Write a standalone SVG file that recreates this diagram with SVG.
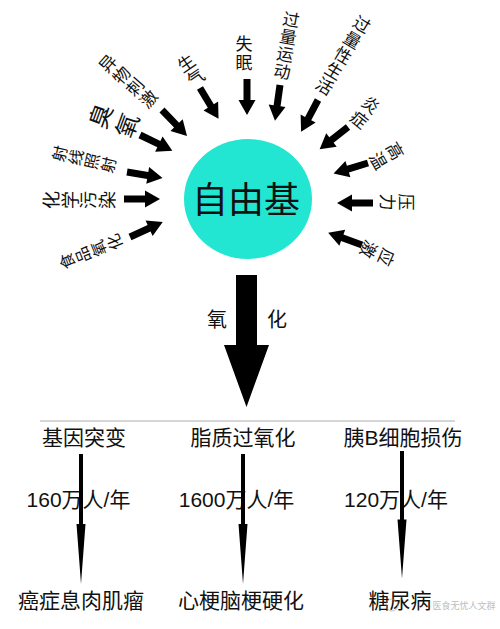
<svg xmlns="http://www.w3.org/2000/svg" xmlns:xlink="http://www.w3.org/1999/xlink" width="500" height="629" viewBox="0 0 500 629">
<style>
.t{font-family:"Noto Sans CJK SC","Liberation Sans",sans-serif;fill:#111;}
.r{font-family:"Noto Sans CJK SC",sans-serif;fill:#111;text-anchor:middle;dominant-baseline:central;}
.b{font-family:"Liberation Sans","Noto Sans CJK SC",sans-serif;fill:#111;text-anchor:middle;font-size:21px;}
.k{fill:#000;}
</style>
<defs>
<path id="ra" d="M0,-3.5 H21 V-8.5 L36,0 L21,8.5 V3.5 H0 Z"/>
<path id="ta" d="M-2,0 H2 V70 H4.5 L0,130 L-4.5,70 H-2 Z"/>
</defs>
<rect width="500" height="629" fill="#fff"/>

<g id="center">
<ellipse cx="248" cy="199" rx="64" ry="60" fill="#22e6d2"/>
<text class="t" x="246" y="213" font-size="36" text-anchor="middle">自由基</text>
</g>

<g id="n1" transform="translate(90,252) rotate(-112)"><text class="r" font-size="16"><tspan x="0" y="-25.5">食</tspan><tspan x="0" y="-8.5">品</tspan><tspan x="0" y="8.5">氧</tspan><tspan x="0" y="25.5">化</tspan></text></g>
<g id="n2" transform="translate(78,200) rotate(-90)"><text class="r" font-size="18"><tspan x="0" y="-27.75">化</tspan><tspan x="0" y="-9.25">学</tspan><tspan x="0" y="9.25">污</tspan><tspan x="0" y="27.75">染</tspan></text></g>
<g id="n3" transform="translate(83,159) rotate(-77)"><text class="r" font-size="16"><tspan x="0" y="-25">射</tspan><tspan x="0" y="-8.3">线</tspan><tspan x="0" y="8.3">照</tspan><tspan x="0" y="25">射</tspan></text></g>
<g id="n4" transform="translate(112,120) rotate(-70)"><text class="r" font-size="24"><tspan x="0" y="-14">臭</tspan><tspan x="0" y="14">氧</tspan></text></g>
<g id="n5" transform="translate(127,80) rotate(-49)"><text class="r" font-size="17"><tspan x="0" y="-27">异</tspan><tspan x="0" y="-9">物</tspan><tspan x="0" y="9">刺</tspan><tspan x="0" y="27">激</tspan></text></g>
<g id="n6" transform="translate(190,69) rotate(-34)"><text class="r" font-size="17"><tspan x="0" y="-8.5">生</tspan><tspan x="0" y="8.5">气</tspan></text></g>
<g id="n7"><text x="244" y="35" writing-mode="tb" font-family="Noto Sans CJK SC,sans-serif" font-size="17" letter-spacing="2" fill="#111">失眠</text></g>
<g id="n8" transform="translate(287,44) rotate(10)"><text class="r" font-size="17"><tspan x="0" y="-26.25">过</tspan><tspan x="0" y="-8.75">量</tspan><tspan x="0" y="8.75">运</tspan><tspan x="0" y="26.25">动</tspan></text></g>
<g id="n9" transform="translate(344,54) rotate(31)"><text class="r" font-size="17"><tspan x="0" y="-36">过</tspan><tspan x="0" y="-18">量</tspan><tspan x="0" y="0">性</tspan><tspan x="0" y="18">生</tspan><tspan x="0" y="36">活</tspan></text></g>
<g id="n10" transform="translate(366,111) rotate(39)"><text class="r" font-size="17"><tspan x="0" y="-9.5">炎</tspan><tspan x="0" y="9.5">症</tspan></text></g>
<g id="n11" transform="translate(388,155) rotate(60)"><text class="r" font-size="17"><tspan x="0" y="-9.75">高</tspan><tspan x="0" y="9.75">温</tspan></text></g>
<g id="n12" transform="translate(398,202) rotate(90)"><text class="r" font-size="17"><tspan x="0" y="-9.5">压</tspan><tspan x="0" y="9.5">力</tspan></text></g>
<g id="n13" transform="translate(379,254) rotate(114)"><text class="r" font-size="17"><tspan x="0" y="-9.75">应</tspan><tspan x="0" y="9.75">激</tspan></text></g>

<g id="oxidation">
<text class="t" x="217" y="327" font-size="20" text-anchor="middle">氧</text>
<text class="t" x="277" y="327" font-size="20" text-anchor="middle">化</text>
</g>

<g id="b1"><text class="b" x="84" y="445">基因突变</text></g>
<g id="b2"><text class="b" x="243" y="445">脂质过氧化</text></g>
<g id="b3"><text class="b" x="403" y="445">胰B细胞损伤</text></g>

<g id="r1"><text class="b" x="78.5" y="507">160万人/年</text></g>
<g id="r2"><text class="b" x="236.5" y="507">1600万人/年</text></g>
<g id="r3"><text class="b" x="396" y="507">120万人/年</text></g>

<g id="d1"><text class="b" x="81" y="608" font-size="19">癌症息肉肌瘤</text></g>
<g id="d2"><text class="b" x="241" y="608">心梗脑梗硬化</text></g>
<g id="d3"><text class="b" x="400" y="608">糖尿病</text></g>

<g id="connectors" class="k">
<use xlink:href="#ra" transform="translate(130,237) rotate(-24.6)"/>
<use xlink:href="#ra" transform="translate(124,199) rotate(0)"/>
<use xlink:href="#ra" transform="translate(127,172) rotate(9.5)"/>
<use xlink:href="#ra" transform="translate(140,135) rotate(26)"/>
<use xlink:href="#ra" transform="translate(162,110) rotate(46)"/>
<use xlink:href="#ra" transform="translate(200,88) rotate(59)"/>
<use xlink:href="#ra" transform="translate(247,79) rotate(90)"/>
<use xlink:href="#ra" transform="translate(280,85) rotate(98)"/>
<use xlink:href="#ra" transform="translate(318,100) rotate(118)"/>
<use xlink:href="#ra" transform="translate(348,127) rotate(142)"/>
<use xlink:href="#ra" transform="translate(368,163) rotate(163)"/>
<use xlink:href="#ra" transform="translate(373,203) rotate(180)"/>
<use xlink:href="#ra" transform="translate(362,245) rotate(200)"/>
<path d="M236,275 H257 V345 H269 L246.5,407 L224,345 H236 Z"/>
<line x1="40" y1="421" x2="455" y2="421" stroke="#c8c8c8" stroke-width="1.5"/>
<use xlink:href="#ta" transform="translate(81,454)"/>
<use xlink:href="#ta" transform="translate(243,454)"/>
<use xlink:href="#ta" transform="translate(402,451) scale(1,0.98)"/>
</g>

<g id="watermark" opacity="0.55">
<circle cx="392" cy="605" r="6" fill="none" stroke="#999" stroke-width="1"/>
<text x="464" y="609" font-family="Noto Sans CJK SC,sans-serif" font-size="9" fill="#888" text-anchor="middle">医食无忧人文群</text>
</g>
</svg>
